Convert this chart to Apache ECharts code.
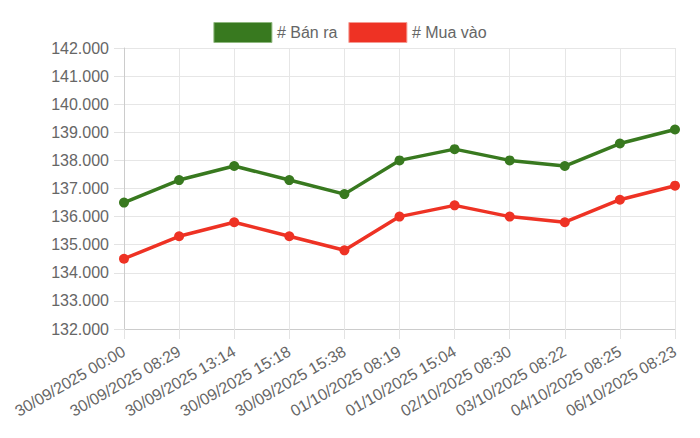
<!DOCTYPE html>
<html>
<head>
<meta charset="utf-8">
<script src="https://cdn.jsdelivr.net/npm/echarts@6/dist/echarts.min.js"></script>
<style>
  html, body { margin: 0; padding: 0; background: #fff; }
  #chart { width: 700px; height: 438px; }
</style>
</head>
<body>
<div id="chart"></div>
<script>
const categories = [
  '30/09/2025 00:00', '30/09/2025 08:29', '30/09/2025 13:14', '30/09/2025 15:18',
  '30/09/2025 15:38', '01/10/2025 08:19', '01/10/2025 15:04', '02/10/2025 08:30',
  '03/10/2025 08:22', '04/10/2025 08:25', '06/10/2025 08:23'
]
const banRa = [136500, 137300, 137800, 137300, 136800, 138000, 138400, 138000, 137800, 138600, 139100]
const muaVao = [134500, 135300, 135800, 135300, 134800, 136000, 136400, 136000, 135800, 136600, 137100]

const GREEN = '#38791f'
const RED = '#ee3224'
const FONT = '"Liberation Sans", Arial, sans-serif'

// dot as thousands separator
const fmt = v => String(v).replace(/\B(?=(\d{3})+(?!\d))/g, '.')

const chart = echarts.init(document.getElementById('chart'), null, { renderer: 'svg' })

chart.setOption({
  animation: false,
  textStyle: { fontFamily: FONT },
  legend: {
    top: 17,
    left: 'center',
    icon: 'rect',
    itemWidth: 58,
    itemHeight: 20,
    itemGap: 11,
    textStyle: { color: '#666', fontSize: 16, fontFamily: FONT },
    data: [
      { name: '# Bán ra', itemStyle: { color: GREEN, borderColor: '#8fb87f', borderWidth: 1 } },
      { name: '# Mua vào', itemStyle: { color: RED, borderColor: '#f59a92', borderWidth: 1 } }
    ]
  },
  grid: { left: 124, right: 25, top: 48, bottom: 109 },
  xAxis: {
    type: 'category',
    data: categories,
    boundaryGap: false,
    axisLine: { lineStyle: { color: '#ccc' } },
    axisTick: { show: true, length: 10, lineStyle: { color: '#e3e3e3' } },
    splitLine: { show: true, lineStyle: { color: '#e6e6e6' } },
    axisLabel: {
      rotate: 30,
      interval: 0,
      margin: 21,
      color: '#666',
      fontSize: 16,
      fontFamily: FONT
    }
  },
  yAxis: {
    type: 'value',
    min: 132000,
    max: 142000,
    interval: 1000,
    axisLine: { show: true, lineStyle: { color: '#ccc' } },
    axisTick: { show: true, length: 10, lineStyle: { color: '#e3e3e3' } },
    splitLine: { lineStyle: { color: '#e6e6e6' } },
    axisLabel: {
      formatter: fmt,
      margin: 15,
      color: '#666',
      fontSize: 16,
      fontFamily: FONT
    }
  },
  series: [
    {
      name: '# Bán ra',
      type: 'line',
      data: banRa,
      symbol: 'circle',
      symbolSize: 10,
      lineStyle: { width: 3.5, color: GREEN },
      itemStyle: { color: GREEN }
    },
    {
      name: '# Mua vào',
      type: 'line',
      data: muaVao,
      symbol: 'circle',
      symbolSize: 10,
      lineStyle: { width: 3.5, color: RED },
      itemStyle: { color: RED }
    }
  ]
})
</script>
</body>
</html>
